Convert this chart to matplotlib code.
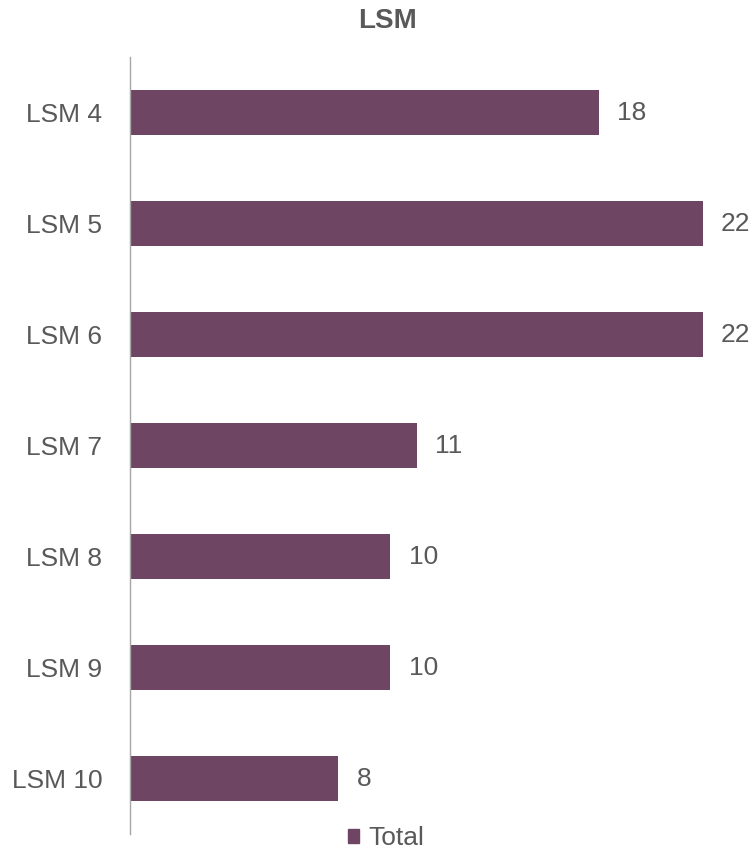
import matplotlib.pyplot as plt
from matplotlib.patches import Patch

# LSM group counts
categories = ['LSM 4', 'LSM 5', 'LSM 6', 'LSM 7', 'LSM 8', 'LSM 9', 'LSM 10']
totals = [18, 22, 22, 11, 10, 10, 8]

bar_color = '#6E4562'
text_color = '#595959'
plt.rcParams['font.family'] = ['Liberation Sans', 'DejaVu Sans']

fig = plt.figure(figsize=(7.55, 8.51), dpi=100)
ax = fig.add_axes([130 / 755, 1 - 834 / 851, (703 - 130) / 755, (834 - 57) / 851])

y = list(range(len(categories)))
ax.barh(y, totals, height=0.4, color=bar_color)
ax.set_ylim(len(categories) - 0.5, -0.5)
ax.set_xlim(0, 22)

# value labels right of each bar
for yi, v in zip(y, totals):
    ax.annotate(str(v), (v, yi), xytext=(13, 0), textcoords='offset points',
                ha='left', va='center', fontsize=19, color=text_color,
                annotation_clip=False)

ax.set_yticks(y)
ax.set_yticklabels(categories, fontsize=19, color=text_color)
ax.tick_params(axis='y', length=0, pad=20)
ax.set_xticks([])
for side in ['top', 'right', 'bottom']:
    ax.spines[side].set_visible(False)
ax.spines['left'].set_color('#A6A6A6')
ax.spines['left'].set_linewidth(1)

fig.text(387.5 / 755, 1 - 21 / 851, 'LSM', ha='center', va='center',
         fontsize=20, fontweight='bold', color=text_color)

fig.legend(handles=[Patch(color=bar_color, label='Total')], loc='center',
           bbox_to_anchor=(386 / 755, 1 - 838 / 851), frameon=False,
           fontsize=19, handlelength=0.45, handleheight=0.45,
           handletextpad=0.35, labelcolor=text_color, borderpad=0)

fig.savefig('out.png', dpi=100)
